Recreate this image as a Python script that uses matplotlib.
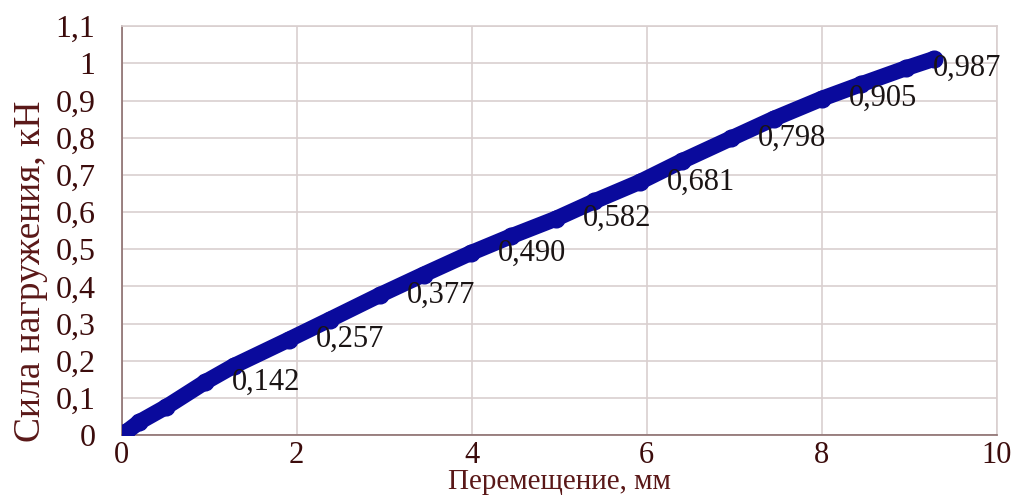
import matplotlib
matplotlib.use("Agg")
import matplotlib.pyplot as plt

# Data
displacement_mm = [0.05, 0.20, 0.51, 0.95, 1.28, 1.91, 2.38, 2.95, 3.45, 3.99, 4.45,
                   4.96, 5.40, 5.92, 6.40, 6.96, 7.45, 8.00, 8.45, 8.96, 9.28]
force_kN = [0.008, 0.035, 0.076, 0.142, 0.186, 0.257, 0.311, 0.377, 0.432, 0.490, 0.535,
            0.582, 0.629, 0.681, 0.737, 0.798, 0.851, 0.905, 0.944, 0.987, 1.012]
label_values = [0.142, 0.257, 0.377, 0.490, 0.582, 0.681, 0.798, 0.905, 0.987]
x_ticks = [0, 2, 4, 6, 8, 10]
y_ticks = [0, 0.1, 0.2, 0.3, 0.4, 0.5, 0.6, 0.7, 0.8, 0.9, 1.0, 1.1]

plt.rcParams['font.family'] = ['Liberation Serif', 'DejaVu Serif']

fig = plt.figure(figsize=(10.14, 4.95), dpi=100)
ax = fig.add_axes([0.12, 0.121, 0.863, 0.826])

tick_color = '#3c0c0c'
title_color = '#5a1818'
spine_color = '#8c6e6e'
grid_color = '#d9cfcf'
line_color = '#0a0a9c'

ax.plot(displacement_mm, force_kN, color=line_color, lw=11.5, solid_capstyle='round',
        solid_joinstyle='round', zorder=3)
ax.plot(displacement_mm, force_kN, 'o', color=line_color, ms=12, zorder=4)

for xv, yv in zip(displacement_mm, force_kN):
    if yv in label_values:
        ax.annotate(f"{yv:.3f}".replace('.', ','), (xv, yv), xytext=(19.5, 0),
                    textcoords='offset points', ha='left', va='center',
                    fontsize=22, color='#1a1414', zorder=5)

ax.set_xlim(0, 10)
ax.set_ylim(0, 1.1)
ax.set_xticks(x_ticks)
ax.set_yticks(y_ticks)
ax.set_xticklabels([str(v) for v in x_ticks])
ax.set_yticklabels(['0' if v == 0 else ('1' if v == 1.0 else f"{v:.1f}".replace('.', ',')) for v in y_ticks])
ax.tick_params(axis='both', length=0, labelsize=23, colors=tick_color)
ax.tick_params(axis='y', pad=19)
ax.tick_params(axis='x', pad=4, labelsize=22)

ax.grid(True, color=grid_color, lw=1.2, zorder=0)
ax.set_axisbelow(True)
for s in ['top', 'right']:
    ax.spines[s].set_color(grid_color)
    ax.spines[s].set_linewidth(1.2)
for s in ['left', 'bottom']:
    ax.spines[s].set_color(spine_color)
    ax.spines[s].set_linewidth(1.2)

fig.text(0.5513, 1 - 482 / 495, 'Перемещение, мм', ha='center', va='center',
         fontsize=21, color=title_color)
fig.text(31 / 1014, 1 - 271 / 495, 'Сила нагружения, кН', ha='center', va='center',
         rotation=90, fontsize=27, color=title_color)

fig.savefig('out.png', dpi=100)
